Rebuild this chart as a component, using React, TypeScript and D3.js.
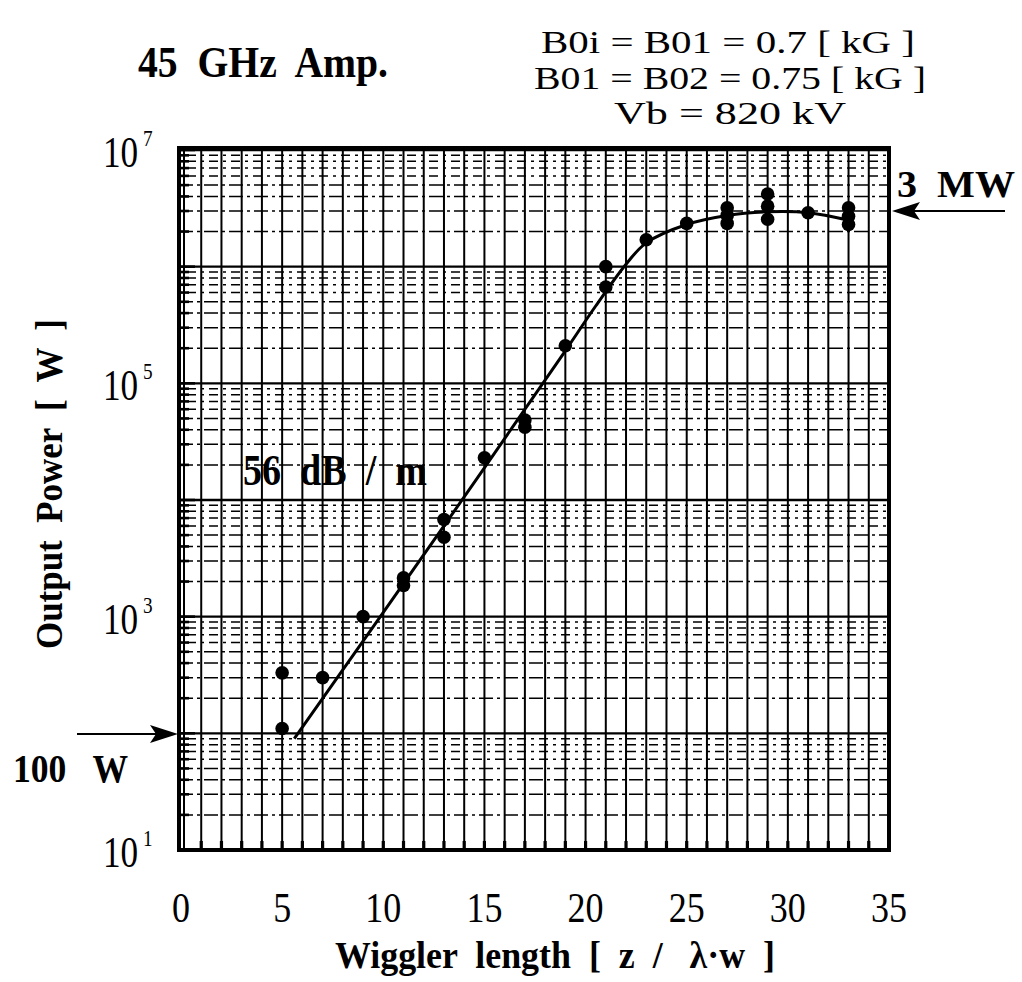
import React from "react";
import * as d3 from "d3";

// Measured points (wiggler length, output power W)
const ptsX = [5, 5, 7, 9, 11, 11, 13, 13, 15, 17, 17, 19, 21, 21, 23, 25, 27, 27, 27, 29, 29, 29, 31, 33, 33, 33];
const ptsY = [330, 110, 300, 1000, 2150, 1850, 6800, 4800, 23000, 48500, 42000, 2.1e5, 6.7e5, 1.0e6, 1.7e6, 2.35e6, 3.2e6, 2.75e6, 2.35e6, 4.2e6, 3.3e6, 2.55e6, 2.9e6, 3.2e6, 2.7e6, 2.3e6];

// Fitted curve
const fitX = [5.6, 13, 19, 20.5, 22, 23, 25, 27, 29, 31, 33];
const fitY = [90, 6000, 1.9e5, 4.6e5, 1.05e6, 1.6e6, 2.3e6, 2.75e6, 2.95e6, 2.9e6, 2.5e6];

const xTicks = [0, 5, 10, 15, 20, 25, 30, 35];
const yLabelExps = [1, 3, 5, 7];

const W = 1022, H = 982;
const L = 179, R = 889, T = 148, B = 850;

export default function App() {
  const x = d3.scaleLinear().domain([0, 35]).range([L + 2, R]);
  const y = d3.scaleLog().domain([10, 1e7]).range([B, T + 2]);

  const minors: { v: number; m: number }[] = [];
  for (let e = 1; e < 7; e++) {
    for (let m = 1; m < 10; m++) minors.push({ v: m * Math.pow(10, e), m });
  }
  minors.push({ v: 1e7, m: 1 });

  const vLines = d3.range(1, 35);
  const line = d3.line<number>().x((_, i) => x(fitX[i])).y((_, i) => y(fitY[i])).curve(d3.curveCatmullRom.alpha(0.5));

  const font = "'Liberation Serif', 'Times New Roman', serif";

  return (
    <svg width={W} height={H} style={{ position: "absolute", left: 0, top: 0, background: "#fff" }} fontFamily={font}>
      <rect width={W} height={H} fill="#fff" />
      {/* horizontal grid */}
      {minors.map((d, i) => (
        <line key={"h" + i} x1={L} x2={R} y1={y(d.v)} y2={y(d.v)} stroke="#000"
          strokeWidth={d.m === 1 ? 2.4 : 1.5}
          strokeDasharray={d.m === 1 ? "none" : d.m >= 6 ? "3 5 9 5" : "14 4 3 4"} />
      ))}
      {/* vertical grid */}
      {vLines.map((v) => (
        <line key={"v" + v} x1={x(v)} x2={x(v)} y1={T} y2={B} stroke="#000" strokeWidth={2} />
      ))}
      {/* left ticks */}
      {minors.map((d, i) => (
        <line key={"lt" + i} x1={L} x2={L + (d.m === 1 ? 16 : 10)} y1={y(d.v)} y2={y(d.v)} stroke="#000" strokeWidth={2.6} />
      ))}
      <line x1={L + 5} x2={L + 5} y1={T} y2={B} stroke="#000" strokeWidth={2} />
      {/* bottom ticks */}
      {vLines.map((v) => (
        <line key={"bt" + v} x1={x(v)} x2={x(v)} y1={B} y2={B - 9} stroke="#000" strokeWidth={3.2} />
      ))}
      {/* frame */}
      <rect x={L} y={T} width={R - L} height={B - T} fill="none" stroke="#000" strokeWidth={4} />

      {/* fit curve */}
      <path d={line(fitX) || ""} fill="none" stroke="#000" strokeWidth={3} />
      {/* points */}
      {ptsX.map((px, i) => (
        <circle key={"p" + i} cx={x(px)} cy={y(ptsY[i])} r={6.8} fill="#000" />
      ))}

      {/* y tick labels */}
      {yLabelExps.map((e) => (
        <text key={"yl" + e} transform={`translate(103,${y(Math.pow(10, e)) + 17}) scale(0.8,1)`} fontSize={44} fill="#000">
          10<tspan fontSize={24} dx={6} dy={-21}>{e}</tspan>
        </text>
      ))}
      {/* x tick labels */}
      {xTicks.map((t) => (
        <text key={"xl" + t} x={x(t)} y={922} fontSize={42} textAnchor="middle" fill="#000" textLength={String(t).length * 18} lengthAdjust="spacingAndGlyphs">{t}</text>
      ))}

      <text x={555} y={968} fontSize={38} fontWeight="bold" textAnchor="middle" fill="#000" style={{ whiteSpace: "pre" }} textLength={440} lengthAdjust="spacingAndGlyphs">
        Wiggler  length  [  z  /   λ·w  ]
      </text>
      <text transform="translate(62,484) rotate(-90)" fontSize={38} fontWeight="bold" textAnchor="middle" fill="#000" style={{ whiteSpace: "pre" }} textLength={330} lengthAdjust="spacingAndGlyphs">
        Output  Power  [  W  ]
      </text>

      <text x={138} y={77} fontSize={44} fontWeight="bold" fill="#000" style={{ whiteSpace: "pre" }} textLength={250} lengthAdjust="spacingAndGlyphs">45  GHz  Amp.</text>
      <text x={728} y={53} fontSize={31} textAnchor="middle" fill="#000" textLength={374} lengthAdjust="spacingAndGlyphs">B0i = B01 = 0.7 [ kG ]</text>
      <text x={730} y={88.5} fontSize={31} textAnchor="middle" fill="#000" textLength={392} lengthAdjust="spacingAndGlyphs">B01 = B02 = 0.75 [ kG ]</text>
      <text x={730} y={124} fontSize={31} textAnchor="middle" fill="#000" textLength={232} lengthAdjust="spacingAndGlyphs">Vb = 820 kV</text>

      <text x={243} y={485} fontSize={44} fontWeight="bold" fill="#000" style={{ whiteSpace: "pre" }} textLength={184} lengthAdjust="spacingAndGlyphs">56  dB  /  m</text>

      {/* 3 MW annotation */}
      <text x={897} y={197} fontSize={38} fontWeight="bold" fill="#000" style={{ whiteSpace: "pre" }} textLength={118} lengthAdjust="spacingAndGlyphs">3  MW</text>
      <line x1={1005} x2={905} y1={211} y2={211} stroke="#000" strokeWidth={2.2} />
      <path d="M892,211 L920,202 L914,211 L920,220 Z" fill="#000" />

      {/* 100 W annotation */}
      <text x={13} y={782} fontSize={40} fontWeight="bold" fill="#000" style={{ whiteSpace: "pre" }} textLength={115} lengthAdjust="spacingAndGlyphs">100   W</text>
      <line x1={77} x2={160} y1={734} y2={734} stroke="#000" strokeWidth={2.2} />
      <path d="M178,734 L150,725 L156,734 L150,743 Z" fill="#000" />
    </svg>
  );
}
